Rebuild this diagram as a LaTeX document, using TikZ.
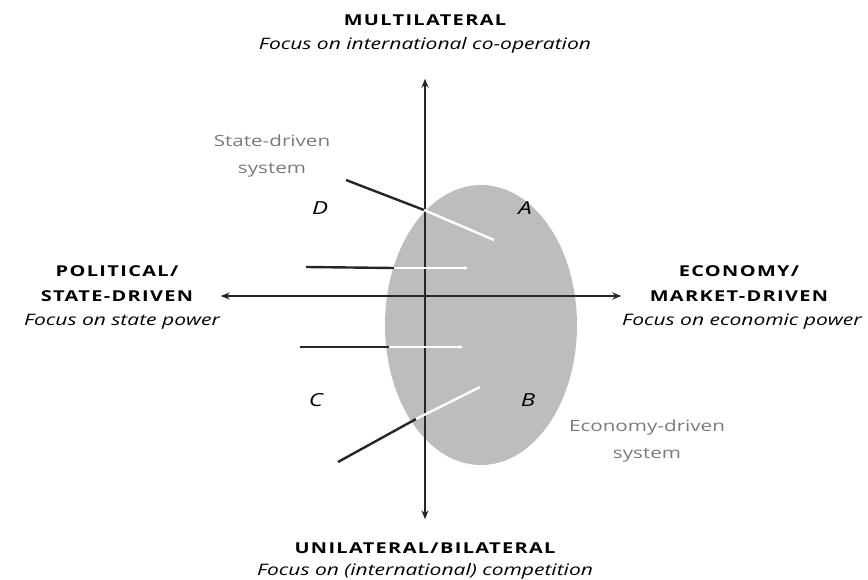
\documentclass[tikz,border=0pt]{standalone}
\usepackage{fontspec}
\setmainfont[FakeStretch=1.33]{Open Sans}
\usetikzlibrary{arrows.meta, positioning}
\definecolor{blobgray}{HTML}{BDBDBD}
\definecolor{labelgray}{HTML}{7A7A7A}
\definecolor{linedark}{HTML}{262626}

\begin{document}
\begin{tikzpicture}[
  x=1pt, y=-1pt,
  axis/.style={{Stealth[length=9pt,width=7pt]}-{Stealth[length=9pt,width=7pt]}, line width=1.8pt, linedark},
  darkline/.style={line width=2.4pt, linedark},
  whiteline/.style={line width=2.4pt, white},
  caps/.style={font=\fontsize{15}{25}\selectfont\bfseries\addfontfeature{LetterSpace=9}, align=center, inner sep=0pt},
  focus/.style={font=\fontsize{15.8}{18}\selectfont\itshape, inner sep=0pt},
  syslabel/.style={font=\fontsize{15.5}{27}\selectfont, labelgray, align=center, inner sep=0pt},
  quad/.style={font=\fontsize{18}{20}\selectfont\itshape, inner sep=0pt}
]
\useasboundingbox (0,0) rectangle (868,580);

% economy-driven blob
\fill[blobgray] (481,325) ellipse [x radius=96, y radius=140];

% axes
\node[inner sep=0pt] (top) at (425,78) {};
\node[inner sep=0pt] (bottom) at (425,520) {};
\node[inner sep=0pt] (left) at (220,296) {};
\node[inner sep=0pt] (right) at (622,296) {};
\draw[axis] (bottom) -- (top);
\draw[axis] (left) -- (right);

% pointers into the blob
\coordinate (d0) at (346,180);
\coordinate (d1) at (424,210);
\coordinate (d2) at (494,240);
\coordinate (u0) at (306,267);
\coordinate (u1) at (394,268);
\coordinate (u2) at (468,268);
\coordinate (l0) at (300,347);
\coordinate (l1) at (389,347);
\coordinate (l2) at (463,347);
\coordinate (c0) at (338,462);
\coordinate (c1) at (416,419);
\coordinate (c2) at (480,387);
\draw[darkline] (d0) -- (d1);
\draw[whiteline] (d1) -- (d2);
\draw[darkline] (u0) -- (u1);
\draw[whiteline, -{Stealth[length=4pt,width=4pt]}] (u1) -- (u2);
\draw[darkline] (l0) -- (l1);
\draw[whiteline, -{Stealth[length=4pt,width=4pt]}] (l1) -- (l2);
\draw[darkline] (c0) -- (c1);
\draw[whiteline] (c1) -- (c2);

% axis labels
\node[caps] (multi) at (425,20) {MULTILATERAL};
\node[focus, below=12pt of multi] (multif) {Focus on international co-operation};
\node[caps] (uni) at (425,548) {UNILATERAL/BILATERAL};
\node[focus, below=10pt of uni] (unif) {Focus on (international) competition};
\node[caps] (pol) at (117,284) {POLITICAL/\\STATE-DRIVEN};
\node[focus, below=12pt of pol, xshift=5pt] (polf) {Focus on state power};
\node[caps] (eco) at (739,284) {ECONOMY/\\MARKET-DRIVEN};
\node[focus, below=12pt of eco, xshift=3pt] (ecof) {Focus on economic power};

% system labels
\node[syslabel] (statesys) at (272,156) {State-driven\\system};
\node[syslabel] (ecosys) at (647,441) {Economy-driven\\system};

% quadrants
\node[quad] (qd) at (320,208) {D};
\node[quad] (qa) at (525,208) {A};
\node[quad] (qc) at (316,400) {C};
\node[quad] (qb) at (528,400) {B};
\end{tikzpicture}
\end{document}
